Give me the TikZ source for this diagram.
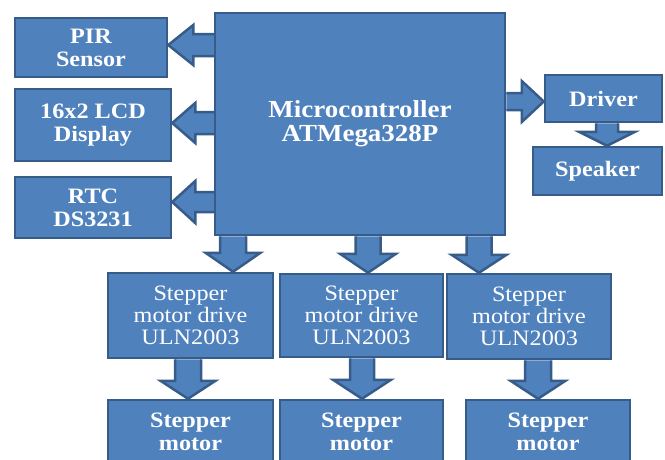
\documentclass[tikz,border=0pt]{standalone}
\usepackage{fontspec}
\setmainfont[FakeStretch=1.1]{Liberation Serif}
\usetikzlibrary{calc}
\definecolor{boxfill}{HTML}{4F81BD}
\definecolor{boxline}{HTML}{375C89}
\tikzset{
  blk/.style={fill=boxfill, draw=boxline, line width=2.5pt, line join=miter},
  box/.style={blk, rectangle, inner sep=0pt, align=center, text=white,
    font=\fontsize{22}{23}\selectfont\bfseries},
  thinbox/.style={box, font=\fontsize{22}{22}\selectfont},
  bigbox/.style={box, font=\fontsize{24.5}{24}\selectfont\bfseries},
}
% block arrows: #1 tail point, #2 tip point, #3 half shaft, #4 half head, #5 head length
\newcommand{\blkleft}[5]{\draw[blk] let \p1=#1, \p2=#2 in
  (\x1,\y1+#3) -- (\x2+#5,\y1+#3) -- (\x2+#5,\y1+#4) -- (\x2,\y1) --
  (\x2+#5,\y1-#4) -- (\x2+#5,\y1-#3) -- (\x1,\y1-#3);}
\newcommand{\blkright}[5]{\draw[blk] let \p1=#1, \p2=#2 in
  (\x1,\y1+#3) -- (\x2-#5,\y1+#3) -- (\x2-#5,\y1+#4) -- (\x2,\y1) --
  (\x2-#5,\y1-#4) -- (\x2-#5,\y1-#3) -- (\x1,\y1-#3);}
\newcommand{\blkdown}[5]{\draw[blk] let \p1=#1, \p2=#2 in
  (\x1-#3,\y1) -- (\x1-#3,\y2+#5) -- (\x1-#4,\y2+#5) -- (\x1,\y2) --
  (\x1+#4,\y2+#5) -- (\x1+#3,\y2+#5) -- (\x1+#3,\y1);}
\begin{document}
\begin{tikzpicture}[x=1pt,y=-1pt]
\useasboundingbox (0,0) rectangle (665,459);
\clip (0,0) rectangle (665,459);
% boxes
\node[box, minimum width=152, minimum height=59] (pir) at (91,47.5) {PIR\\Sensor};
\node[box, minimum width=156, minimum height=72] (lcd) at (93,125) {16x2 LCD\\Display};
\node[box, minimum width=156, minimum height=61] (rtc) at (93,207.5) {RTC\\DS3231};
\node[bigbox, minimum width=290, minimum height=222] (mc) at (360,124) {Microcontroller\\ATMega328P};
\node[box, minimum width=117, minimum height=47] (driver) at (603.5,98.5) {Driver};
\node[box, minimum width=129, minimum height=48] (speaker) at (597.5,171) {Speaker};
\node[thinbox, minimum width=165, minimum height=85] (d1) at (190.5,315.5) {Stepper\\motor drive\\ULN2003};
\node[thinbox, minimum width=163, minimum height=83] (d2) at (361.5,315.5) {Stepper\\motor drive\\ULN2003};
\node[thinbox, minimum width=164, minimum height=85] (d3) at (529,316.5) {Stepper\\motor drive\\ULN2003};
\node[box, minimum width=165, minimum height=64] (m1) at (190.5,432) {Stepper\\motor};
\node[box, minimum width=163, minimum height=64] (m2) at (361.5,432) {Stepper\\motor};
\node[box, minimum width=164, minimum height=64] (m3) at (548,432) {Stepper\\motor};
% arrows
\blkleft{(mc.west |- 0,45)}{(pir.east)}{11pt}{20pt}{25pt}
\blkleft{(mc.west |- 0,123)}{(lcd.east)}{11pt}{20pt}{23pt}
\blkleft{(mc.west |- 0,202)}{(rtc.east)}{10pt}{21pt}{23pt}
\blkright{(mc.east |- 0,101.5)}{(driver.west)}{8.5pt}{20.5pt}{22pt}
\blkdown{(driver.south -| 607,0)}{(speaker.north)}{11pt}{28pt}{14pt}
\blkdown{(mc.south -| 233,0)}{(d1.north)}{13pt}{27.5pt}{19pt}
\blkdown{(mc.south -| 368,0)}{(d2.north)}{12.5pt}{28pt}{19pt}
\blkdown{(mc.south -| 479,0)}{(d3.north)}{12.5pt}{27.5pt}{18pt}
\blkdown{(d1.south -| 188,0)}{(m1.north)}{13pt}{27.5pt}{18pt}
\blkdown{(d2.south -| 362,0)}{(m2.north)}{12pt}{29pt}{19pt}
\blkdown{(d3.south -| 538,0)}{(m3.north)}{13pt}{27.5pt}{18pt}
\end{tikzpicture}
\end{document}
